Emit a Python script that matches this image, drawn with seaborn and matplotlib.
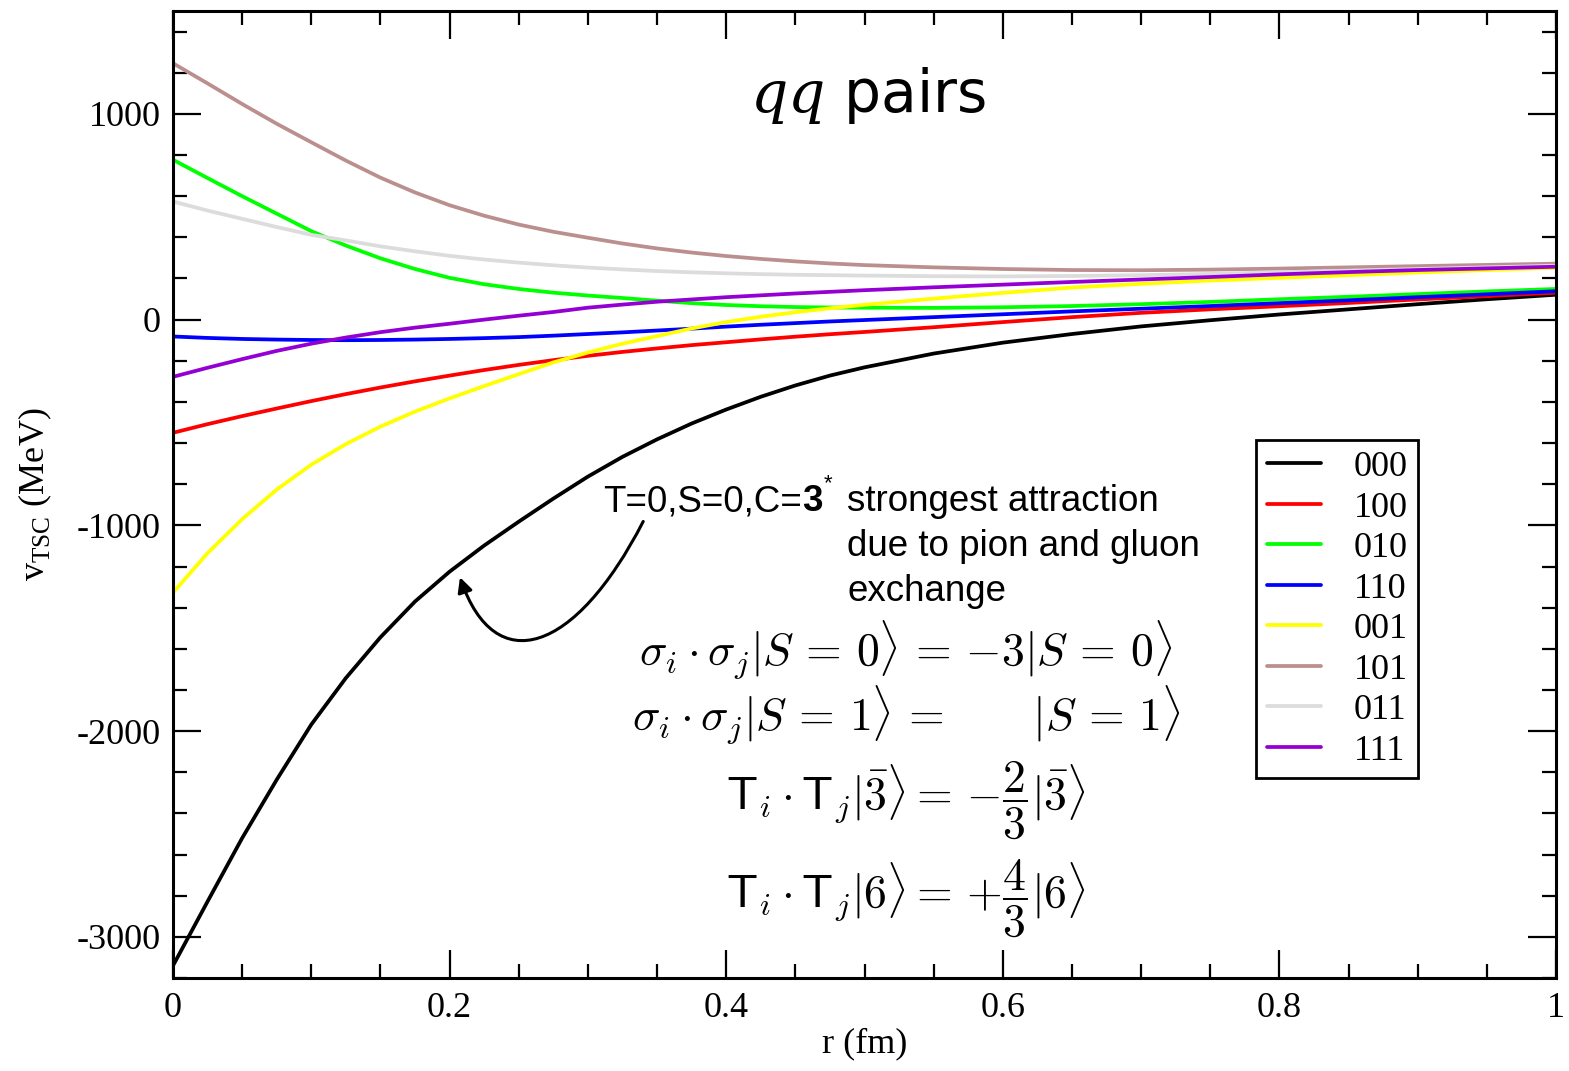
import numpy as np
import pandas as pd
import matplotlib
matplotlib.use("Agg")
import matplotlib.pyplot as plt
import seaborn as sns
from matplotlib.path import Path
from matplotlib.patches import FancyArrowPatch
from matplotlib.ticker import MultipleLocator

# ---------------- data ----------------
r = [0.0, 0.025, 0.05, 0.075, 0.1, 0.125, 0.15, 0.175, 0.2, 0.225, 0.25, 0.275, 0.3,
     0.325, 0.35, 0.375, 0.4, 0.425, 0.45, 0.475, 0.5,
     0.55, 0.6, 0.65, 0.7, 0.75, 0.8, 0.85, 0.9, 0.95, 1.0]
v_000 = [-3140, -2828, -2520, -2236, -1968, -1742, -1544, -1370, -1225, -1098, -982, -870, -763,
         -667, -582, -505, -437, -375, -320, -272, -232,
         -165, -112, -70, -33, -3, 25, 50, 75, 99, 121]
v_100 = [-550, -508, -469, -432, -396, -362, -330, -300, -272, -245, -220, -197, -176,
         -157, -140, -124, -110, -96, -83, -71, -60,
         -37, -12, 12, 33, 50, 65, 81, 98, 114, 131]
v_010 = [777, 688, 600, 515, 430, 360, 298, 246, 203, 172, 149, 131, 117,
         105, 92, 80, 71, 65, 61, 59, 58,
         57, 60, 66, 75, 86, 99, 111, 124, 137, 149]
v_110 = [-82, -89, -94, -97, -99, -100, -99, -97, -94, -90, -85, -78, -70,
         -62, -53, -44, -34, -25, -17, -9, -2,
         12, 26, 40, 53, 66, 80, 94, 109, 123, 138]
v_001 = [-1327, -1135, -970, -826, -705, -605, -520, -447, -383, -323, -265, -208, -160,
         -117, -80, -43, -12, 14, 36, 55, 72,
         102, 130, 156, 174, 190, 203, 216, 229, 241, 252]
v_101 = [1246, 1148, 1048, 952, 862, 773, 690, 618, 556, 505, 462, 427, 398,
         370, 346, 326, 309, 295, 283, 273, 265,
         254, 246, 241, 240, 243, 248, 254, 260, 266, 272]
v_011 = [574, 530, 490, 450, 412, 385, 356, 332, 310, 292, 277, 264, 253,
         244, 236, 230, 225, 221, 218, 216, 214,
         211, 210, 212, 216, 222, 230, 238, 246, 254, 262]
v_111 = [-278, -234, -192, -152, -117, -87, -61, -39, -20, 0, 19, 37, 58,
         73, 87, 98, 109, 118, 127, 135, 143,
         157, 170, 183, 195, 207, 220, 231, 241, 249, 257]

states = ["000", "100", "010", "110", "001", "101", "011", "111"]
colors = ["#000000", "#ff0000", "#00ff00", "#0000ff", "#ffff00", "#bc8f8f", "#dcdcdc", "#9400d3"]
series = [v_000, v_100, v_010, v_110, v_001, v_101, v_011, v_111]

df = pd.concat([pd.DataFrame({"r": r, "v": s, "state": name})
                for name, s in zip(states, series)], ignore_index=True)

# ---------------- style ----------------
sns.set_theme(style="ticks")
plt.rcParams["font.family"] = ["Liberation Serif", "DejaVu Serif"]
plt.rcParams["axes.unicode_minus"] = False
plt.rcParams.update({"text.color": "black", "axes.labelcolor": "black",
                     "xtick.color": "black", "ytick.color": "black",
                     "axes.edgecolor": "black"})

fig = plt.figure(figsize=(15.69, 10.71), dpi=100)
ax = fig.add_axes([173/1569, 1 - 978/1071, (1556-173)/1569, (978-11)/1071])

sns.lineplot(data=df, x="r", y="v", hue="state", hue_order=states,
             palette=dict(zip(states, colors)), linewidth=2.7, ax=ax,
             sort=False, estimator=None)

ax.set_xlim(0, 1)
ax.set_ylim(-3200, 1500)
ax.xaxis.set_major_locator(MultipleLocator(0.2))
ax.xaxis.set_minor_locator(MultipleLocator(0.05))
ax.yaxis.set_major_locator(MultipleLocator(1000))
ax.yaxis.set_minor_locator(MultipleLocator(200))
ax.set_xticks([0, 0.2, 0.4, 0.6, 0.8, 1.0])
ax.set_xticklabels(["0", "0.2", "0.4", "0.6", "0.8", "1"])

ax.tick_params(which="both", direction="in", top=True, right=True, width=1.6, color="black")
ax.tick_params(which="major", length=20, labelsize=26)
ax.tick_params(which="minor", length=10)
ax.tick_params(axis="x", which="major", pad=10)
ax.tick_params(axis="y", which="major", pad=9)
for sp in ax.spines.values():
    sp.set_linewidth(2.2)
    sp.set_color("black")

ax.set_xlabel("r (fm)", fontsize=26, labelpad=2)
ax.set_ylabel(r"v$_{\mathregular{TSC}}$ (MeV)", fontsize=26, labelpad=16)

# legend
handles, labels = ax.get_legend_handles_labels()
leg = ax.legend(handles, labels, loc="upper left", bbox_to_anchor=((1256-173)/1383, (978-440)/967),
                frameon=True, fancybox=False, edgecolor="black", framealpha=1, fontsize=26,
                handlelength=1.5, handletextpad=0.9, labelspacing=0.2,
                borderpad=0.3, borderaxespad=0)
leg.get_frame().set_linewidth(2.0)
for h in leg.get_lines():
    h.set_linewidth(2.7)

# title inside
ax.text(0.5025, 0.913, r"$qq$ pairs", transform=ax.transAxes, ha="center", va="center",
        fontsize=42, family="DejaVu Sans", math_fontfamily="dejavuserif", color="black")

# annotation text
sans = "Liberation Sans"
def ay(py):
    return (978 - py) / 967
t1 = ax.text((603-173)/1383, ay(511), "T=0,S=0,C=", transform=ax.transAxes,
             ha="left", va="baseline", fontsize=26.5, family=sans)
t2 = ax.annotate("3", xy=(1, 0), xycoords=t1, ha="left", va="bottom",
                 fontsize=26.5, family=sans, fontweight="bold")
ax.annotate("*", xy=(1.05, 0.72), xycoords=t2, ha="left", va="bottom",
            fontsize=16, family=sans)
for txt, py in [("strongest attraction", 511), ("due to pion and gluon", 556), ("exchange", 601)]:
    ax.text((847-173)/1383, ay(py), txt, transform=ax.transAxes,
            ha="left", va="baseline", fontsize=26.5, family=sans)

# equations
eq_x = (906-173)/1383
eq_fs = 33
ax.text(eq_x, ay(650),
        r"$\sigma_i\cdot\sigma_j|S\,=\,\mathsf{0}\rangle\,=\,{-}\mathsf{3}|S\,=\,\mathsf{0}\rangle$",
        transform=ax.transAxes, ha="center", va="center", fontsize=eq_fs, math_fontfamily="cm")
ax.text(eq_x, ay(715),
        r"$\sigma_i\cdot\sigma_j|S\,=\,1\rangle\,=\,\quad\ \ \,|S\,=\,1\rangle$",
        transform=ax.transAxes, ha="center", va="center", fontsize=eq_fs, math_fontfamily="cm")
ax.text(eq_x, ay(800),
        r"$\mathsf{T}_i\cdot\mathsf{T}_j|\bar{\mathbf{3}}\rangle=\,{-}\dfrac{\mathsf{2}}{\mathsf{3}}|\bar{\mathbf{3}}\rangle$",
        transform=ax.transAxes, ha="center", va="center", fontsize=eq_fs, math_fontfamily="cm")
ax.text(eq_x, ay(898),
        r"$\mathsf{T}_i\cdot\mathsf{T}_j|\mathbf{6}\rangle=\,{+}\dfrac{\mathsf{4}}{\mathsf{3}}|\mathbf{6}\rangle$",
        transform=ax.transAxes, ha="center", va="center", fontsize=eq_fs, math_fontfamily="cm")

# curved arrow (annotation, in data coordinates)
arrow_pts = [(0.340, -981), (0.2907, -1626), (0.2328, -1748), (0.2075, -1252)]
arrow_path = Path(arrow_pts, [Path.MOVETO, Path.CURVE4, Path.CURVE4, Path.CURVE4])
ax.add_patch(FancyArrowPatch(path=arrow_path, arrowstyle="-|>", mutation_scale=22,
                             lw=2.2, color="black", transform=ax.transData))

fig.savefig("out.png", dpi=100)
